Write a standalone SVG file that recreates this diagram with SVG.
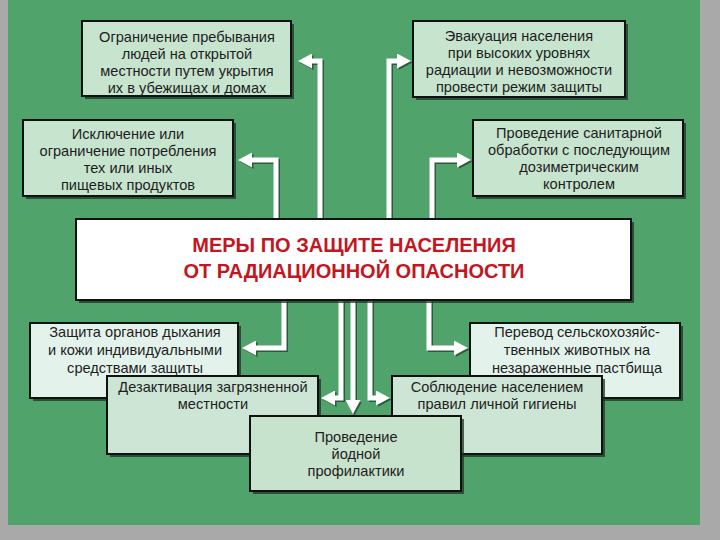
<svg xmlns="http://www.w3.org/2000/svg" width="720" height="540" viewBox="0 0 720 540">
<style>
.box{stroke:#111;stroke-width:2}
.sh{fill:#1c3324;opacity:0.75}
.t{font-family:"Liberation Sans",Arial,sans-serif;font-size:14.6px;fill:#1e1e1e;text-anchor:middle}
.title{font-family:"Liberation Sans",Arial,sans-serif;font-size:20px;font-weight:bold;fill:#c3161f;text-anchor:middle}
.cw{fill:none;stroke:#ffffff;stroke-width:5}
.cs{fill:none;stroke:#1f3a29;stroke-width:5;opacity:0.7}
</style>
<defs>
<marker id="aw" viewBox="0 -7.5 14 15" refX="1" refY="0" markerWidth="14" markerHeight="15" markerUnits="userSpaceOnUse" orient="auto">
<path d="M0,-7.5 L14,0 L0,7.5 z" fill="#ffffff"/>
</marker>
<marker id="as" viewBox="0 -7.5 14 15" refX="1" refY="0" markerWidth="14" markerHeight="15" markerUnits="userSpaceOnUse" orient="auto">
<path d="M0,-7.5 L14,0 L0,7.5 z" fill="#1f3a29"/>
</marker>
</defs>
<rect x="0" y="0" width="720" height="540" fill="#a9a9a9"/>
<rect x="8" y="0" width="692" height="525" fill="#50a46b"/>

<g id="connectors">
<g transform="translate(1.5,1.5)">
<path class="cs" marker-end="url(#as)" d="M320,219 V61 H311"/>
<path class="cs" marker-end="url(#as)" d="M389,219 V61 H398"/>
<path class="cs" marker-end="url(#as)" d="M276,219 V160 H251"/>
<path class="cs" marker-end="url(#as)" d="M432,219 V160 H458"/>
<path class="cs" marker-end="url(#as)" d="M284,300 V348 H255"/>
<path class="cs" marker-end="url(#as)" d="M429,300 V348 H455"/>
<path class="cs" marker-end="url(#as)" d="M341,300 V398 H334"/>
<path class="cs" marker-end="url(#as)" d="M353,300 V401"/>
<path class="cs" marker-end="url(#as)" d="M370,300 V398 H377"/>
</g>
<path class="cw" marker-end="url(#aw)" d="M320,219 V61 H311"/>
<path class="cw" marker-end="url(#aw)" d="M389,219 V61 H398"/>
<path class="cw" marker-end="url(#aw)" d="M276,219 V160 H251"/>
<path class="cw" marker-end="url(#aw)" d="M432,219 V160 H458"/>
<path class="cw" marker-end="url(#aw)" d="M284,300 V348 H255"/>
<path class="cw" marker-end="url(#aw)" d="M429,300 V348 H455"/>
<path class="cw" marker-end="url(#aw)" d="M341,300 V398 H334"/>
<path class="cw" marker-end="url(#aw)" d="M353,300 V401"/>
<path class="cw" marker-end="url(#aw)" d="M370,300 V398 H377"/>
</g>

<g id="n1">
<rect class="sh" x="85" y="24" width="209" height="75"/>
<rect class="box" x="82" y="21" width="209" height="75" fill="#c7e4cf"/>
<text class="t" x="187" y="42">Ограничение пребывания</text>
<text class="t" x="187" y="59">людей на открытой</text>
<text class="t" x="187" y="76">местности путем укрытия</text>
<text class="t" x="187" y="93">их в убежищах и домах</text>
</g>
<g id="n2">
<rect class="sh" x="416" y="24" width="212" height="76"/>
<rect class="box" x="413" y="21" width="212" height="76" fill="#c7e4cf"/>
<text class="t" x="519" y="41">Эвакуация населения</text>
<text class="t" x="519" y="58">при высоких уровнях</text>
<text class="t" x="519" y="75">радиации и невозможности</text>
<text class="t" x="519" y="92">провести режим защиты</text>
</g>
<g id="n3">
<rect class="sh" x="26" y="123" width="210" height="76"/>
<rect class="box" x="23" y="120" width="210" height="76" fill="#c7e4cf"/>
<text class="t" x="128" y="139">Исключение или</text>
<text class="t" x="128" y="156">ограничение потребления</text>
<text class="t" x="128" y="173">тех или иных</text>
<text class="t" x="128" y="190">пищевых продуктов</text>
</g>
<g id="n4">
<rect class="sh" x="476" y="123" width="210" height="76"/>
<rect class="box" x="473" y="120" width="210" height="76" fill="#c7e4cf"/>
<text class="t" x="579" y="138">Проведение санитарной</text>
<text class="t" x="579" y="155">обработки с последующим</text>
<text class="t" x="579" y="172">дозиметрическим</text>
<text class="t" x="579" y="189">контролем</text>
</g>
<g id="center">
<rect class="sh" x="79" y="222" width="555" height="81"/>
<rect class="box" x="76" y="219" width="555" height="81" fill="#ffffff"/>
<text class="title" x="354" y="252">МЕРЫ ПО ЗАЩИТЕ НАСЕЛЕНИЯ</text>
<text class="title" x="354" y="278">ОТ РАДИАЦИОННОЙ ОПАСНОСТИ</text>
</g>
<g id="n5">
<rect class="sh" x="33" y="326" width="208" height="75"/>
<rect class="box" x="30" y="323" width="208" height="75" fill="#e3f3ec"/>
<text class="t" x="135" y="337">Защита органов дыхания</text>
<text class="t" x="135" y="355">и кожи индивидуальными</text>
<text class="t" x="135" y="373">средствами защиты</text>
</g>
<g id="n6">
<rect class="sh" x="473" y="326" width="210" height="75"/>
<rect class="box" x="470" y="323" width="210" height="75" fill="#e3f3ec"/>
<text class="t" x="577" y="337">Перевод сельскохозяйс-</text>
<text class="t" x="577" y="355">твенных животных на</text>
<text class="t" x="577" y="373">незараженные пастбища</text>
</g>
<g id="n7">
<rect class="sh" x="110" y="379" width="211" height="78"/>
<rect class="box" x="107" y="376" width="211" height="78" fill="#cde5d5"/>
<text class="t" x="213" y="392">Дезактивация загрязненной</text>
<text class="t" x="213" y="409">местности</text>
</g>
<g id="n8">
<rect class="sh" x="395" y="379" width="210" height="78"/>
<rect class="box" x="392" y="376" width="210" height="78" fill="#cde5d5"/>
<text class="t" x="497" y="392">Соблюдение населением</text>
<text class="t" x="497" y="409">правил личной гигиены</text>
</g>
<g id="n9">
<rect class="sh" x="253" y="419" width="211" height="75"/>
<rect class="box" x="250" y="416" width="211" height="75" fill="#c7e2cd"/>
<text class="t" x="356" y="442">Проведение</text>
<text class="t" x="356" y="459">йодной</text>
<text class="t" x="356" y="476">профилактики</text>
</g>
</svg>
